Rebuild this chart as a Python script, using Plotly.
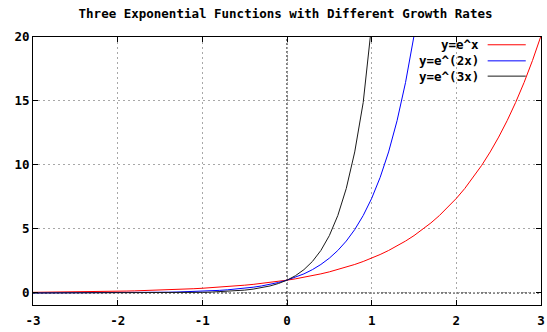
import plotly.graph_objects as go

title = "Three Exponential Functions with Different Growth Rates"
names = ["y=e^x", "y=e^(2x)", "y=e^(3x)"]
colors = ["#ff0000", "#0000ff", "#1a1a1a"]

x = [-3.0, -2.9, -2.8, -2.7, -2.6, -2.5, -2.4, -2.3, -2.2, -2.1,
     -2.0, -1.9, -1.8, -1.7, -1.6, -1.5, -1.4, -1.3, -1.2, -1.1,
     -1.0, -0.9, -0.8, -0.7, -0.6, -0.5, -0.4, -0.3, -0.2, -0.1,
     0.0, 0.1, 0.2, 0.3, 0.4, 0.5, 0.6, 0.7, 0.8, 0.9,
     1.0, 1.1, 1.2, 1.3, 1.4, 1.5, 1.6, 1.7, 1.8, 1.9,
     2.0, 2.1, 2.2, 2.3, 2.4, 2.5, 2.6, 2.7, 2.8, 2.9, 3.0]

y1 = [0.050, 0.055, 0.061, 0.067, 0.074, 0.082, 0.091, 0.100, 0.111, 0.122,
      0.135, 0.150, 0.165, 0.183, 0.202, 0.223, 0.247, 0.273, 0.301, 0.333,
      0.368, 0.407, 0.449, 0.497, 0.549, 0.607, 0.670, 0.741, 0.819, 0.905,
      1.000, 1.105, 1.221, 1.350, 1.492, 1.649, 1.822, 2.014, 2.226, 2.460,
      2.718, 3.004, 3.320, 3.669, 4.055, 4.482, 4.953, 5.474, 6.050, 6.686,
      7.389, 8.166, 9.025, 9.974, 11.02, 12.18, 13.46, 14.88, 16.44, 18.17, 20.09]

y2 = [0.0025, 0.0030, 0.0037, 0.0045, 0.0055, 0.0067, 0.0082, 0.010, 0.012, 0.015,
      0.018, 0.022, 0.027, 0.033, 0.041, 0.050, 0.061, 0.074, 0.091, 0.111,
      0.135, 0.165, 0.202, 0.247, 0.301, 0.368, 0.449, 0.549, 0.670, 0.819,
      1.000, 1.221, 1.492, 1.822, 2.226, 2.718, 3.320, 4.055, 4.953, 6.050,
      7.389, 9.025, 11.02, 13.46, 16.44, 20.09, 24.53, 29.96]

y3 = [0.00012, 0.00017, 0.00022, 0.00030, 0.00041, 0.00055, 0.00075, 0.0010, 0.0014, 0.0018,
      0.0025, 0.0033, 0.0045, 0.0061, 0.0082, 0.011, 0.015, 0.020, 0.027, 0.037,
      0.050, 0.067, 0.091, 0.122, 0.165, 0.223, 0.301, 0.407, 0.549, 0.741,
      1.000, 1.350, 1.822, 2.460, 3.320, 4.482, 6.050, 8.166, 11.02, 14.88,
      20.09, 27.11, 36.60]

x_ticks = [-3, -2, -1, 0, 1, 2, 3]
y_ticks = [0, 5, 10, 15, 20]

FONT = "DejaVu Sans Mono"

fig = go.Figure()
for ys, name, col in zip([y1, y2, y3], names, colors):
    fig.add_trace(go.Scatter(x=x[:len(ys)], y=ys, mode="lines", name=name,
                             line=dict(color=col, width=1), showlegend=False))

# zero axes (dotted black)
fig.add_shape(type="line", xref="x", yref="paper", x0=0, x1=0, y0=0, y1=1,
              line=dict(color="black", width=1, dash="2px,2px"), layer="below")
fig.add_shape(type="line", xref="paper", yref="y", x0=0, x1=1, y0=0, y1=0,
              line=dict(color="black", width=1, dash="2px,2px"), layer="below")

# gnuplot-style key: text right-aligned, sample line to the right
key_y = [0.971, 0.911, 0.854]
for name, col, ky in zip(names, colors, key_y):
    fig.add_annotation(xref="paper", yref="paper", x=0.881, y=ky, text="<b>" + name + "</b>",
                       showarrow=False, xanchor="right", yanchor="middle",
                       font=dict(family=FONT, size=12.5, color="black"))
    fig.add_shape(type="line", xref="paper", yref="paper", x0=0.895, x1=0.97, y0=ky, y1=ky,
                  line=dict(color=col, width=1))

axis_common = dict(showline=True, linecolor="black", linewidth=1, mirror="ticks",
                   ticks="inside", ticklen=5, tickcolor="black", automargin=False,
                   showgrid=True, gridcolor="#a8a8a8", griddash="2px,3px", gridwidth=1,
                   zeroline=False, tickfont=dict(family=FONT, size=12.5, color="black"))

fig.update_xaxes(range=[-3, 3], tickvals=x_ticks, ticktext=["<b>%d</b>" % v for v in x_ticks],
                 ticklabelstandoff=4, **axis_common)
fig.update_yaxes(range=[-0.94, 20], tickvals=y_ticks, ticktext=["<b>%d</b>" % v for v in y_ticks],
                 **axis_common)

fig.update_layout(
    width=547, height=332,
    margin=dict(l=33, r=6, t=37, b=27),
    plot_bgcolor="white", paper_bgcolor="white",
    title=dict(text="<b>" + title + "</b>", x=0.522, xanchor="center", y=0.958, yanchor="middle",
               font=dict(family=FONT, size=12.5, color="black")),
)

fig.write_html("out.html")
